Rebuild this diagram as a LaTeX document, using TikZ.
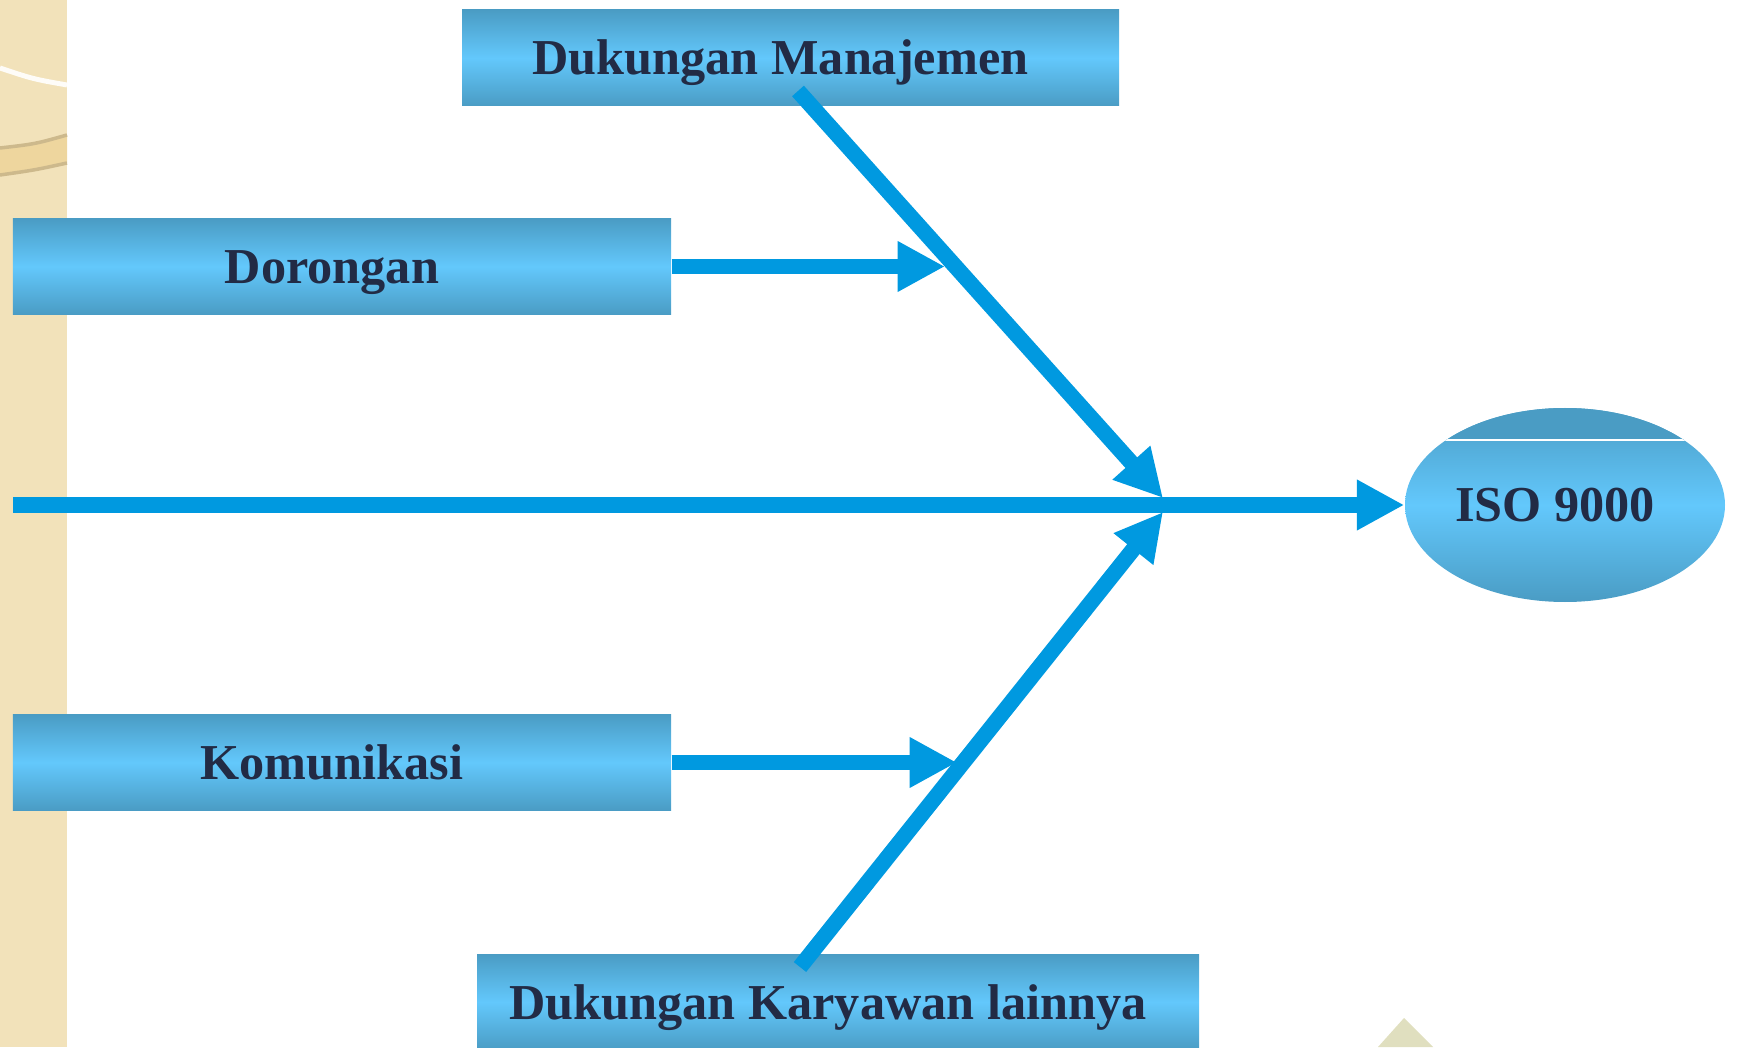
\documentclass[tikz,border=0pt]{standalone}
\usepackage{fontspec}
\setmainfont{Liberation Serif}
\usepackage{xcolor}
\usepackage{tikz}
\usetikzlibrary{calc, arrows.meta, shapes.geometric}

\definecolor{kotakgelap}{RGB}{74,156,196}
\definecolor{kotakterang}{RGB}{99,200,252}
\definecolor{panah}{RGB}{0,153,224}
\definecolor{teks}{RGB}{34,43,69}
\definecolor{krem}{RGB}{242,226,186}
\definecolor{kremtua}{RGB}{238,214,158}
\definecolor{garistan}{RGB}{205,185,140}
\definecolor{segitiga}{RGB}{224,223,191}

\begin{document}
\begin{tikzpicture}[>={Triangle[length=13.5pt, width=13.5pt]},
    kotak/.style={rectangle, inner sep=0pt, minimum height=0.96cm,
        top color=kotakgelap, bottom color=kotakgelap, middle color=kotakterang,
        text=teks, text height=0.34cm, text depth=0pt,
        execute at begin node=\hspace*{-0.2cm},
        font=\fontsize{14.3}{17}\selectfont\bfseries},
    panahbiru/.style={->, draw=panah, line width=4.5pt}]
    \clip (0,0) rectangle (17.37,10.47);
    \useasboundingbox (0,0) rectangle (17.37,10.47);

    % Latar kiri
    \fill[krem] (0,0) rectangle (0.67,10.47);
    \fill[kremtua] (0,8.99) .. controls (0.35,9.03) .. (0.67,9.12)
        -- (0.67,8.84) .. controls (0.35,8.77) .. (0,8.72) -- cycle;
    \draw[garistan, line width=1pt] (0,8.99) .. controls (0.35,9.03) .. (0.67,9.12);
    \draw[garistan, line width=1pt] (0,8.72) .. controls (0.35,8.77) .. (0.67,8.84);
    \draw[white!90!krem, line width=1.4pt] (0,9.79) .. controls (0.33,9.68) .. (0.67,9.62);
    \fill[segitiga] (14.04,0.29) -- (14.33,0) -- (13.78,0) -- cycle;

    % Kotak-kotak
    \node[kotak, minimum width=6.57cm] (manajemen) at (7.905,9.89) {Dukungan Manajemen};
    \node[kotak, minimum width=6.58cm] (dorongan) at (3.42,7.805) {Dorongan};
    \node[kotak, minimum width=6.58cm] (komunikasi) at (3.42,2.845) {Komunikasi};
    \node[kotak, minimum width=7.22cm] (karyawan) at (8.38,0.45) {Dukungan Karyawan lainnya};

    % Elips ISO 9000
    \node[ellipse, inner sep=0pt, minimum width=3.20cm, minimum height=1.94cm,
        top color=kotakgelap, bottom color=kotakgelap, middle color=kotakterang,
        text=teks, text height=0.34cm, text depth=0pt,
        execute at begin node=\hspace*{-0.2cm},
        font=\fontsize{14.3}{17}\selectfont\bfseries] (iso) at (15.65,5.42) {ISO 9000};
    \begin{scope}
        \clip (iso.center) ellipse (1.60cm and 0.97cm);
        \fill[kotakgelap] (13.9,6.07) rectangle (17.4,6.5);
        \draw[white, line width=0.6pt] (13.9,6.07) -- (17.4,6.07);
    \end{scope}

    % Titik bantu
    \coordinate (ekor) at (0.13,5.42);
    \coordinate (hub) at (11.63,5.42);
    \coordinate (atas) at (7.98,9.56);
    \coordinate (bawah) at (8.00,0.80);
    \coordinate (tdorong) at (9.45,7.805);
    \coordinate (tkomun) at (9.57,2.845);

    % Panah
    \draw[panahbiru] (ekor) -- (iso);
    \draw[panahbiru] (atas) -- ($(hub)+(0,0.07)$);
    \draw[panahbiru] (bawah) -- ($(hub)+(0,-0.07)$);
    \draw[panahbiru] (dorongan.east) -- (tdorong);
    \draw[panahbiru] (komunikasi.east) -- (tkomun);
\end{tikzpicture}
\end{document}
